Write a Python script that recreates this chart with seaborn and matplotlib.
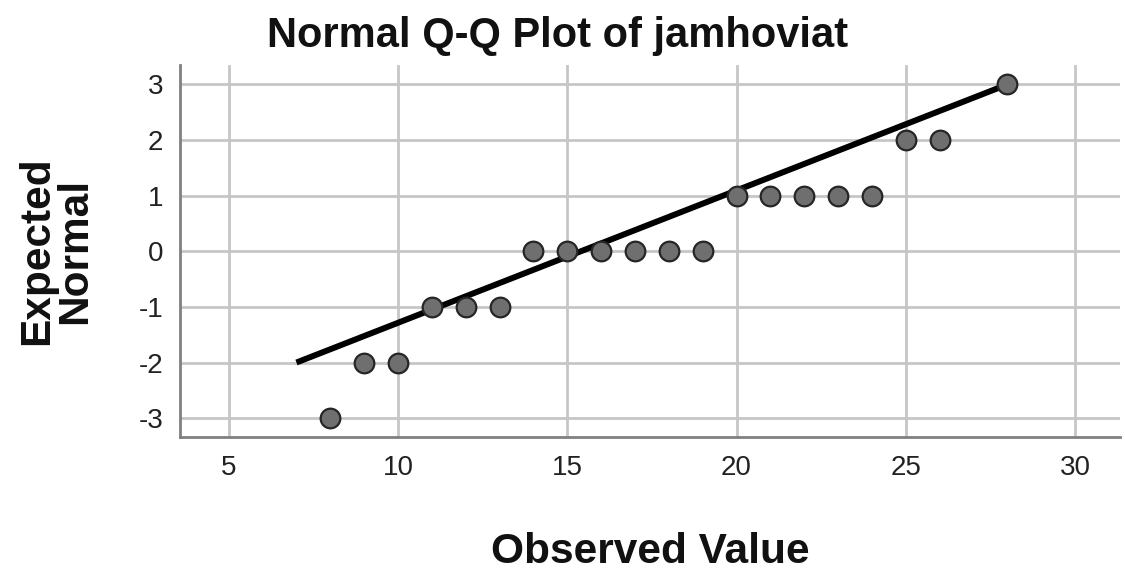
import matplotlib
matplotlib.use("Agg")
import matplotlib.pyplot as plt
import seaborn as sns
import pandas as pd

# Data
observed = [8, 9, 10, 11, 12, 13, 14, 15, 16, 17, 18, 19, 20, 21, 22, 23, 24, 25, 26, 28]
expected = [-3, -2, -2, -1, -1, -1, 0, 0, 0, 0, 0, 0, 1, 1, 1, 1, 1, 2, 2, 3]
line_x = [7, 28]
line_y = [-2, 3]
x_ticks = [5, 10, 15, 20, 25, 30]
y_ticks = [-3, -2, -1, 0, 1, 2, 3]

sns.set_theme(style="white")
plt.rcParams['font.family'] = ['Liberation Sans', 'DejaVu Sans']
plt.rcParams['axes.unicode_minus'] = False

pts = pd.DataFrame({"Observed Value": observed, "Expected Normal": expected})
ref = pd.DataFrame({"x": line_x, "y": line_y})

fig = plt.figure(figsize=(11.25, 5.7), dpi=100)
ax = fig.add_axes([0.16, 0.2333, 0.8356, 0.6526])

sns.lineplot(data=ref, x="x", y="y", ax=ax, color="black", linewidth=4.3,
             zorder=3, solid_capstyle="butt")
sns.scatterplot(data=pts, x="Observed Value", y="Expected Normal", ax=ax,
                s=200, color="#6f6f6f", edgecolor="#262626", linewidth=1.6,
                zorder=4)

ax.set_xlim(3.56, 31.33)
ax.set_ylim(-3.34, 3.35)
ax.set_xticks(x_ticks)
ax.set_yticks(y_ticks)
ax.grid(True, color="#c6c6c6", linewidth=2)
ax.set_axisbelow(True)
for s in ["top", "right"]:
    ax.spines[s].set_visible(False)
for s in ["left", "bottom"]:
    ax.spines[s].set_color("#808080")
    ax.spines[s].set_linewidth(2)
ax.tick_params(axis="both", length=0, labelsize=20, colors="#222222")
ax.tick_params(axis="x", pad=13)
ax.tick_params(axis="y", pad=12)

ax.set_xlabel("Observed Value", fontsize=30.5, fontweight="bold", color="#111111")
ax.xaxis.set_label_coords(0.5, -0.255)
ax.set_ylabel("Expected\nNormal", fontsize=30.5, fontweight="bold", color="#111111",
              linespacing=0.95, multialignment="center")
ax.yaxis.set_label_coords(-0.09, 0.5)

fig.text(0.496, 0.9175, "Normal Q-Q Plot of jamhoviat", ha="center", va="baseline",
         fontsize=30, fontweight="bold", color="#111111")

fig.savefig("out.png", dpi=100, facecolor="white")
